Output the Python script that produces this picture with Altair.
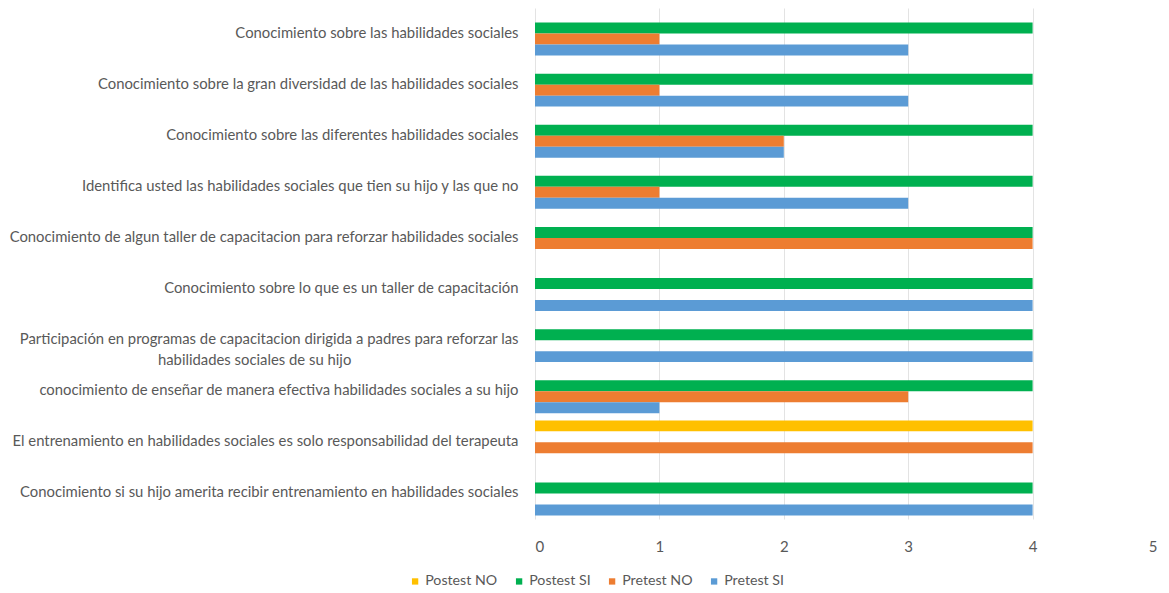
import altair as alt
import pandas as pd

NB = "\u00a0"
categories = [
    "Conocimiento sobre las habilidades sociales",
    "Conocimiento sobre la gran diversidad de las habilidades sociales",
    "Conocimiento sobre las diferentes habilidades sociales",
    "Identifica usted las habilidades sociales que tien su hijo y las que no",
    "Conocimiento de algun taller de capacitacion para reforzar habilidades sociales",
    "Conocimiento sobre lo que es un taller de capacitación",
    "Participación en programas de capacitacion dirigida a padres para reforzar las|habilidades sociales de su hijo" + NB * 44 + "\u2060",
    "conocimiento de enseñar de manera efectiva habilidades sociales a su hijo",
    "El entrenamiento en habilidades sociales es solo responsabilidad del terapeuta",
    "Conocimiento si su hijo amerita recibir entrenamiento en habilidades sociales",
]
series = ["Postest NO", "Postest SI", "Pretest NO", "Pretest SI"]
postest_no = [0, 0, 0, 0, 0, 0, 0, 0, 4, 0]
postest_si = [4, 4, 4, 4, 4, 4, 4, 4, 0, 4]
pretest_no = [1, 1, 2, 1, 4, 0, 0, 3, 4, 0]
pretest_si = [3, 3, 2, 3, 0, 4, 4, 1, 0, 4]
colors = ["#FFC000", "#00B050", "#ED7D31", "#5B9BD5"]

rows = []
for s, vals in zip(series, [postest_no, postest_si, pretest_no, pretest_si]):
    for c, v in zip(categories, vals):
        rows.append({"Pregunta": c, "Serie": s, "Valor": v})
df = pd.DataFrame(rows)

FONT = "Lato"
H = 511

chart = alt.Chart(df).transform_filter("datum.Valor > 0").mark_bar().encode(
    y=alt.Y("Pregunta:N", sort=categories, title=None,
            scale=alt.Scale(paddingInner=0.14, paddingOuter=0.07),
            axis=alt.Axis(labelExpr="split(datum.label, '|')", labelFontSize=14.85,
                          labelColor="#595959", labelFont=FONT, ticks=False,
                          domain=False, labelPadding=17, labelLimit=700,
                          labelLineHeight=21)),
    yOffset=alt.YOffset("Serie:N", sort=series, scale=alt.Scale(paddingInner=0)),
    x=alt.X("Valor:Q", title=None, scale=alt.Scale(domain=[0, 5]),
            axis=alt.Axis(values=[0, 1, 2, 3, 4, 5], format="d", labelFontSize=15,
                          labelColor="#595959", labelFont=FONT, ticks=False,
                          domain=False, labelPadding=20, gridColor="#E3E3E3")),
    color=alt.Color("Serie:N", sort=series,
                    scale=alt.Scale(domain=series, range=colors),
                    legend=alt.Legend(orient="none", direction="horizontal", title=None,
                                      legendX=-127, legendY=H + 55,
                                      labelFont=FONT, labelFontSize=14.2, labelColor="#595959",
                                      symbolType="square", symbolSize=40, symbolStrokeWidth=0,
                                      columnPadding=14, labelOffset=3)),
).properties(width=622, height=H,
             padding={"left": 0, "right": 0, "top": 0, "bottom": 0}
).configure_view(stroke=None)

chart.save("out.html", embed_options={"renderer": "svg", "actions": False})
